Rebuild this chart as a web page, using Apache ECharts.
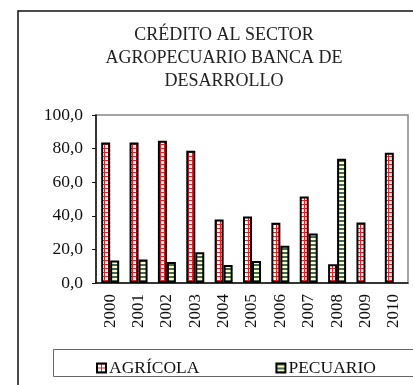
<!DOCTYPE html>
<html>
<head>
<meta charset="utf-8">
<script src="https://cdn.jsdelivr.net/npm/echarts@6/dist/echarts.min.js"></script>
<style>
  html, body { margin: 0; padding: 0; background: #fff; }
  #chart { width: 413px; height: 385px; }
</style>
</head>
<body>
<div id="chart"></div>
<script>
// Credit to the agricultural sector, development banking (2000-2010)
var years = ['2000', '2001', '2002', '2003', '2004', '2005', '2006', '2007', '2008', '2009', '2010'];
var agricola = [83.7, 83.7, 84.7, 78.7, 37.8, 39.6, 35.8, 51.5, 11.2, 36.0, 77.5];
var pecuario = [13.4, 14.0, 12.5, 18.3, 10.7, 13.1, 22.1, 29.5, 73.9, null, null];
var yTicks = { min: 0, max: 100, interval: 20 };

var SERIF = "'Liberation Serif', 'Times New Roman', serif";

// Fill patterns: red grid on white, and green/yellow horizontal stripes
function gridTile() {
  var c = document.createElement('canvas');
  c.width = 4; c.height = 4;
  var g = c.getContext('2d');
  g.fillStyle = '#ffffff'; g.fillRect(0, 0, 4, 4);
  g.fillStyle = '#ee1c24';
  g.fillRect(0, 0, 1, 4);
  g.fillRect(0, 0, 4, 1);
  return c;
}
function stripeTile() {
  var c = document.createElement('canvas');
  c.width = 4; c.height = 4;
  var g = c.getContext('2d');
  g.fillStyle = '#fdfdc4'; g.fillRect(0, 0, 4, 4);
  g.fillStyle = '#3f6b58'; g.fillRect(0, 0, 4, 2);
  return c;
}

var chart = echarts.init(document.getElementById('chart'), null, { renderer: 'canvas' });

chart.setOption({
  animation: false,
  backgroundColor: '#ffffff',
  textStyle: { fontFamily: SERIF },
  title: {
    text: 'CRÉDITO AL SECTOR\nAGROPECUARIO BANCA DE\nDESARROLLO',
    left: 219,
    textAlign: 'center',
    top: 19,
    textStyle: {
      fontFamily: SERIF, fontSize: 18, fontWeight: 'normal',
      color: '#222', lineHeight: 23
    }
  },
  graphic: [
    {
      type: 'rect', z: -1, silent: true,
      shape: { x: 18, y: 11, width: 420, height: 400 },
      style: { fill: 'none', stroke: '#111', lineWidth: 1.5 }
    },
    {
      type: 'rect', z: -1, silent: true,
      shape: { x: 53.5, y: 349.5, width: 380, height: 27 },
      style: { fill: 'none', stroke: '#666', lineWidth: 1 }
    }
  ],
  legend: {
    left: 91, top: 354,
    itemWidth: 9, itemHeight: 9,
    itemGap: 76,
    icon: 'rect',
    textStyle: { fontFamily: SERIF, fontSize: 17.5, color: '#111', padding: [0, 0, 0, -2] },
    data: ['AGRÍCOLA', 'PECUARIO']
  },
  grid: {
    left: 96, top: 115, right: 5, bottom: 102,
    show: true, borderColor: '#888', borderWidth: 1.5
  },
  xAxis: {
    type: 'category',
    data: years,
    boundaryGap: true,
    axisLine: { lineStyle: { color: '#111', width: 1.5 } },
    axisTick: { alignWithLabel: false, length: 4, lineStyle: { color: '#111' } },
    axisLabel: { rotate: 90, fontFamily: SERIF, fontSize: 17, color: '#111', margin: 11 },
    splitLine: { show: false }
  },
  yAxis: {
    type: 'value',
    min: yTicks.min, max: yTicks.max, interval: yTicks.interval,
    axisLine: { show: true, lineStyle: { color: '#111', width: 1.5 } },
    axisTick: { show: true, length: 4, lineStyle: { color: '#111' } },
    axisLabel: {
      fontFamily: SERIF, fontSize: 17.5, color: '#111', margin: 13,
      formatter: function (v) { return v.toFixed(1).replace('.', ','); }
    },
    splitLine: { show: false }
  },
  series: [
    {
      name: 'AGRÍCOLA', type: 'bar', data: agricola,
      barWidth: 9, barGap: '0%',
      itemStyle: {
        color: { image: gridTile(), repeat: 'repeat' },
        borderColor: '#000', borderWidth: 2
      }
    },
    {
      name: 'PECUARIO', type: 'bar', data: pecuario,
      barWidth: 9, barGap: '0%',
      itemStyle: {
        color: { image: stripeTile(), repeat: 'repeat' },
        borderColor: '#000', borderWidth: 2
      }
    }
  ]
});
</script>
</body>
</html>
